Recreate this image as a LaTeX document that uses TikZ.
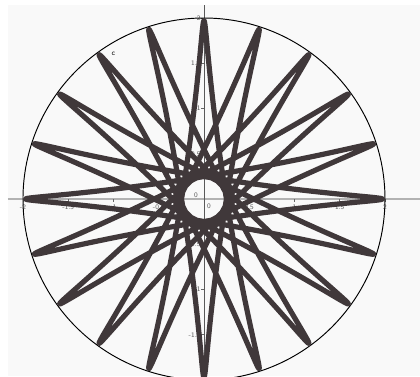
\documentclass[tikz,border=0pt]{standalone}
\usepackage{tikz}
\usetikzlibrary{positioning}
\definecolor{curvecol}{RGB}{64,56,58}
\definecolor{panelcol}{RGB}{249,249,249}
\tikzset{
panel/.style={fill=panelcol,draw=none},
xaxisline/.style={gray!60,line width=1.8pt},
yaxisline/.style={black!65,line width=0.9pt},
tick/.style={black!60,line width=0.6pt},
ticklab/.style={font=\sffamily\fontsize{6.5}{7}\selectfont,text=black!65,inner sep=0.5pt},
rim/.style={black,line width=0.9pt},
starcurve/.style={curvecol,line width=4.9pt,line join=round,line cap=round},
curvelab/.style={font=\sffamily\fontsize{7}{8}\selectfont,inner sep=0pt}
}

\begin{document}
\begin{tikzpicture}[x=3cm,y=3cm]
\useasboundingbox (-2.254,-1.956) rectangle (2.387,2.199);
\fill[white] (-2.254,-1.956) rectangle (2.387,2.199);
\fill[panel] (-2.166,-1.956) rectangle (2.387,2.144);
% axes
\draw[xaxisline] (-2.166,0) -- (2.387,0);
\draw[yaxisline] (0,-1.956) -- (0,2.144);
\foreach \v/\lab in {-2/-2,-1.5/-1.5,-1/-1,-0.5/-0.5,0.5/0.5,1/1,1.5/1.5,2/2} {
\draw[tick] (\v,0) -- (\v,-0.035);
\node[ticklab] (xl\lab) at (\v,-0.09) {\lab};
}
\foreach \v/\lab in {-1.5/-1.5,-1/-1,-0.5/-0.5,0.5/0.5,1/1,1.5/1.5,2/2} {
\draw[tick] (0,\v) -- (-0.035,\v);
\node[ticklab,anchor=east] (yl\lab) at (-0.03,\v) {\lab};
}
\node[ticklab] (ozero) at (-0.088,0.045) {0};
\node[ticklab] (xzero) at (0.055,-0.077) {0};
% circle and curve c
\draw[rim] (0,0) circle (2);
\draw[starcurve] plot[domain=0:360,samples=1441,variable=\t]
({1.1075*cos(9*\t)+0.8625*cos(11*\t)},{1.1075*sin(9*\t)-0.8625*sin(11*\t)}) -- cycle;
\node[curvelab] (clab) at (-1.0,1.6) {c};
\end{tikzpicture}
\end{document}
